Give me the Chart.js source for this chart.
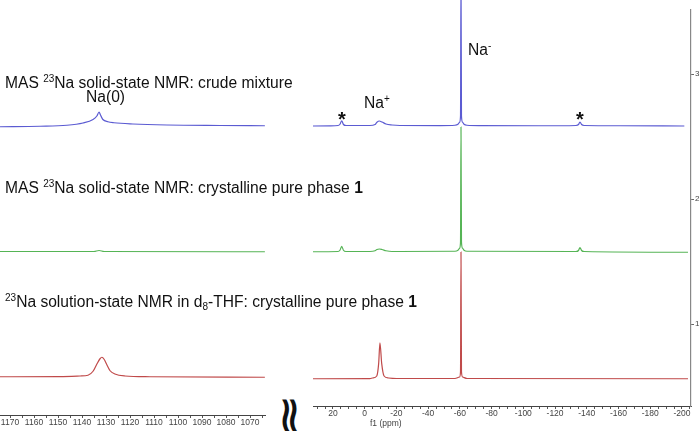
<!DOCTYPE html>
<html lang="en">
<head>
  <meta charset="UTF-8" />
  <title>23Na NMR - stacked spectra</title>
  <script src="https://cdn.jsdelivr.net/npm/chart.js"></script>
  <style>
    body {
      margin: 0;
      width: 700px;
      height: 435px;
      position: relative;
      overflow: hidden;
      background: #fff;
      font-family: 'Liberation Sans', Arial, sans-serif;
      color: #111;
    }

    canvas {
      position: absolute;
      top: 0;
    }

    #leftChart { left: 0; }
    #rightChart { left: 300px; }

    .txt {
      position: absolute;
      white-space: nowrap;
      font-size: 15.6px;
      line-height: 15px;
    }

    .txt sup, .txt sub {
      font-size: 10px;
      vertical-align: baseline;
      position: relative;
    }
    .txt sup { top: -6px; }
    .txt sub { top: 3px; }

    .star {
      position: absolute;
      width: 20px;
      text-align: center;
      font-size: 20px;
      line-height: 20px;
      font-weight: bold;
    }

    .squiggle {
      position: absolute;
      font-family: 'DejaVu Sans', sans-serif;
      font-size: 36px;
      line-height: 36px;
      font-weight: bold;
      letter-spacing: -6px;
      transform: scale(1, 1.4);
      transform-origin: left top;
    }

    .axis-title {
      position: absolute;
      font-size: 8.5px;
      color: #444;
    }
  </style>
</head>
<body>

<canvas id="leftChart" width="270" height="435"></canvas>
<canvas id="rightChart" width="400" height="435"></canvas>

<!-- Spectrum titles -->
<div class="txt" style="left:5px; top:75px;">MAS <sup>23</sup>Na solid-state NMR: crude mixture</div>
<div class="txt" style="left:5px; top:180px;">MAS <sup>23</sup>Na solid-state NMR: crystalline pure phase <b>1</b></div>
<div class="txt" style="left:5px; top:294px;"><sup>23</sup>Na solution-state NMR in d<sub>8</sub>-THF: crystalline pure phase <b>1</b></div>

<!-- Peak labels -->
<div class="txt" style="left:86px; top:89px;">Na(0)</div>
<div class="txt" style="left:364px; top:95px;">Na<sup>+</sup></div>
<div class="txt" style="left:468px; top:42px;">Na<sup>-</sup></div>
<div class="star" style="left:332px; top:109px;">*</div>
<div class="star" style="left:570px; top:109px;">*</div>

<!-- Axis break + axis title -->
<div class="squiggle" style="left:279px; top:389px;">≀≀</div>
<div class="axis-title" style="left:370px; top:418px;">f1 (ppm)</div>

<script>
  // stack offsets of the three spectra (y units of the right axis)
  const offsetCrude = 2.584;
  const offsetSolid = 1.576;
  const offsetSolution = 0.56;

  // [ppm, intensity above own baseline]  -- left window (Na(0) region)
  const crudeLeft = [
    [1174.2, -0.006], [1157.5, -0.002], [1146.3, 0.006], [1139.6, 0.024], [1135.4, 0.052],
    [1133.8, 0.08], [1132.9, 0.112], [1132.3, 0.088], [1131.3, 0.052], [1129.2, 0.034],
    [1126.7, 0.026], [1118.8, 0.016], [1104.6, 0.008], [1082.5, 0.004], [1063.8, 0.002]
  ];
  const solidLeft = [
    [1174.2, 0.004], [1135.0, 0.004], [1132.9, 0.012], [1130.8, 0.004], [1063.8, 0.002]
  ];
  const solutionLeft = [
    [1174.2, 0.018], [1149.2, 0.019], [1140.8, 0.024], [1137.5, 0.030], [1135.4, 0.062],
    [1133.8, 0.12], [1132.5, 0.162], [1131.7, 0.174], [1130.8, 0.158], [1129.6, 0.112],
    [1128.3, 0.066], [1126.3, 0.04], [1122.1, 0.024], [1111.7, 0.018], [1063.8, 0.014]
  ];

  // right window (Na+ / Na- region)
  const crudeRight = [
    [32.6, 0], [21.9, 0.001], [16.8, 0.004], [15.6, 0.014], [14.5, 0.042], [13.4, 0.012],
    [11.8, 0.004], [-3.3, 0.004], [-6.5, 0.012], [-7.7, 0.03], [-9.2, 0.04], [-10.9, 0.032],
    [-13.4, 0.016], [-17.2, 0.008], [-22.2, 0.004], [-47.5, 0.003], [-56.9, 0.006],
    [-58.8, 0.014], [-59.8, 0.03], [-60.4, 0.08], [-60.7, 1.2], [-61.0, 0.08], [-61.7, 0.03],
    [-62.6, 0.014], [-64.5, 0.006], [-72.7, 0.003], [-123.1, 0.002], [-133.2, 0.004],
    [-134.8, 0.012], [-135.7, 0.032], [-136.7, 0.012], [-138.3, 0.004], [-161.0, 0.002],
    [-201.5, 0]
  ];
  const solidRight = [
    [32.6, 0.002], [16.8, 0.004], [15.6, 0.014], [14.5, 0.046], [13.4, 0.014], [11.8, 0.004],
    [-3.3, 0.004], [-6.5, 0.01], [-7.7, 0.02], [-9.2, 0.024], [-10.9, 0.02], [-13.4, 0.01],
    [-17.2, 0.004], [-56.9, 0.006], [-58.8, 0.014], [-59.8, 0.03], [-60.4, 0.08], [-60.7, 1.0],
    [-61.0, 0.08], [-61.7, 0.03], [-62.6, 0.014], [-64.5, 0.006], [-133.2, 0.004],
    [-134.8, 0.012], [-135.7, 0.036], [-136.7, 0.012], [-138.3, 0.004], [-203.8, -0.002]
  ];
  const solutionRight = [
    [32.6, 0.002], [-3.3, 0.003], [-5.0, 0.008], [-7.6, 0.024], [-8.8, 0.125], [-9.6, 0.29],
    [-10.7, 0.125], [-12.2, 0.024], [-15.0, 0.008], [-20.0, 0.004], [-56.9, 0.004],
    [-59.8, 0.016], [-60.4, 0.06], [-60.7, 1.016], [-61.0, 0.06], [-61.7, 0.016],
    [-64.5, 0.004], [-203.8, 0.002]
  ];

  // axis tick labels
  const leftTickLabels = [1170, 1160, 1150, 1140, 1130, 1120, 1110, 1100, 1090, 1080, 1070];
  const rightTickLabels = [20, 0, -20, -40, -60, -80, -100, -120, -140, -160, -180, -200];
  const yTickLabels = [1, 2, 3];

  const colorCrude = '#5b5bd2';
  const colorSolid = '#55b455';
  const colorSolution = '#c04a4a';
  const tickFont = { family: "'Liberation Sans', Arial, sans-serif", size: 8.5 };

  function toPoints(arr, offset) {
    return arr.map(p => ({ x: p[0], y: offset + p[1] }));
  }

  function lineSet(arr, offset, color) {
    return {
      data: toPoints(arr, offset),
      borderColor: color,
      borderWidth: 1.2,
      pointRadius: 0,
      fill: false,
      cubicInterpolationMode: 'monotone',
      clip: false
    };
  }

  function xAxis(min, max, labels, height) {
    return {
      type: 'linear',
      reverse: true,
      min: min,
      max: max,
      afterFit: s => { s.height = height; },
      grid: { drawOnChartArea: false, drawTicks: true, tickLength: 3, color: '#555' },
      border: { display: true, color: '#444', width: 1 },
      ticks: {
        stepSize: 5,
        autoSkip: false,
        maxRotation: 0,
        includeBounds: false,
        padding: 0,
        color: '#444',
        font: tickFont,
        callback: v => labels.includes(Math.round(v)) ? String(Math.round(v)) : ''
      }
    };
  }

  const common = {
    responsive: false,
    animation: false,
    plugins: { legend: { display: false }, tooltip: { enabled: false } }
  };

  // left window
  new Chart(document.getElementById('leftChart'), {
    type: 'line',
    data: {
      datasets: [
        lineSet(crudeLeft, offsetCrude, colorCrude),
        lineSet(solidLeft, offsetSolid, colorSolid),
        lineSet(solutionLeft, offsetSolution, colorSolution)
      ]
    },
    options: {
      ...common,
      layout: { padding: { left: 0, top: 10, right: 5, bottom: 0 } },
      scales: {
        x: xAxis(1063.75, 1174.17, leftTickLabels, 20),
        y: { display: false, min: 0.272, max: 3.512 }
      }
    }
  });

  // right window
  new Chart(document.getElementById('rightChart'), {
    type: 'line',
    data: {
      datasets: [
        lineSet(crudeRight, offsetCrude, colorCrude),
        lineSet(solidRight, offsetSolid, colorSolid),
        lineSet(solutionRight, offsetSolution, colorSolution)
      ]
    },
    options: {
      ...common,
      layout: { padding: { left: 13, top: 10, right: 0, bottom: 0 } },
      scales: {
        x: xAxis(-205.7, 32.6, rightTickLabels, 29),
        y: {
          position: 'right',
          min: 0.344,
          max: 3.512,
          afterFit: s => { s.width = 9; },
          grid: { drawOnChartArea: false, tickLength: 3, color: '#666' },
          border: { display: true, color: '#888', width: 1.2 },
          ticks: {
            stepSize: 1,
            includeBounds: false,
            padding: 1,
            color: '#444',
            font: { family: tickFont.family, size: 8 },
            callback: v => yTickLabels.includes(v) ? String(v) : null
          }
        }
      }
    }
  });
</script>

</body>
</html>
